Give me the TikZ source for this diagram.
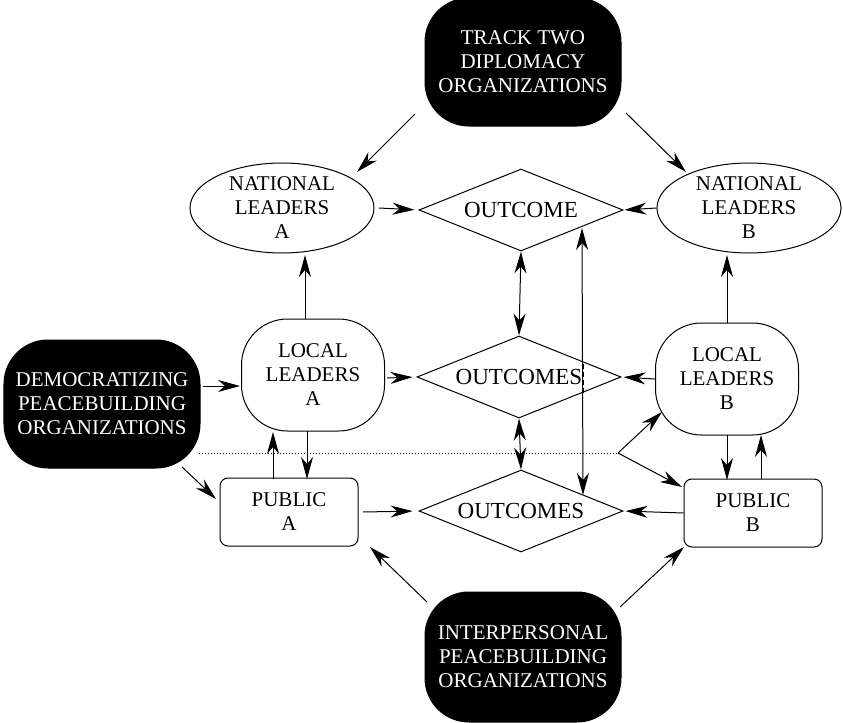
\documentclass[tikz,border=0pt]{standalone}
\usepackage{fontspec}
\setmainfont{Liberation Serif}
\usetikzlibrary{shapes.geometric,arrows.meta}

\begin{document}
\begin{tikzpicture}[x=0.5pt,y=-0.5pt,line width=0.5pt,
        >={Stealth[length=11pt,width=6pt,inset=3.5pt]}]
        \tikzset{LabelStyle/.style={font=\fontsize{10.5}{12}\selectfont, align=center, inner sep=0pt}}
        \tikzset{LowText/.style={execute at begin node={\rule{0pt}{12pt}}}}
        \tikzset{OrgStyle/.style={LabelStyle, draw, fill=black, text=white, rounded corners=22pt,
                minimum width=98pt, minimum height=64pt}}
        \tikzset{LeaderStyle/.style={LabelStyle, LowText, draw, ellipse, inner ysep=-3pt,
                minimum width=92pt, minimum height=45pt}}
        \tikzset{LocalStyle/.style={LabelStyle, LowText, draw, rounded corners=23pt, minimum width=71.5pt, minimum height=56pt}}
        \tikzset{PublicStyle/.style={LabelStyle, draw, rounded corners=4pt, minimum width=69pt, minimum height=34pt}}
        \tikzset{OutStyle/.style={draw, diamond, aspect=2.5, inner sep=0pt, font=\fontsize{11.5}{13}\selectfont,
                minimum width=102pt, minimum height=41pt}}
        \useasboundingbox (0,0) rectangle (843,723);
        \node[OrgStyle] (Track) at (523,62) {TRACK TWO\\DIPLOMACY\\ORGANIZATIONS};
        \node[OrgStyle] (Demo) at (102,404) {DEMOCRATIZING\\PEACEBUILDING\\ORGANIZATIONS};
        \node[OrgStyle, minimum height=65pt] (Inter) at (523,657) {INTERPERSONAL\\PEACEBUILDING\\ORGANIZATIONS};
        \node[LeaderStyle] (NatA) at (282,208) {NATIONAL\\LEADERS\\A};
        \node[LeaderStyle] (NatB) at (749,208) {NATIONAL\\LEADERS\\B};
        \node[LocalStyle] (LocA) at (313,375) {LOCAL\\LEADERS\\A};
        \node[LocalStyle] (LocB) at (727,379) {LOCAL\\LEADERS\\B};
        \node[PublicStyle] (PubA) at (289,512) {PUBLIC\\A};
        \node[PublicStyle] (PubB) at (753,513) {PUBLIC\\B};
        \node[OutStyle] (Out1) at (521,210) {OUTCOME};
        \node[OutStyle] (Out2) at (519,377) {OUTCOMES};
        \node[OutStyle] (Out3) at (521,511) {OUTCOMES};
        \coordinate (Fork) at (618,453);
        \draw[->] ([shift={(-108,52)}]Track.center) -- ([shift={(75,-36)}]NatA.center);
        \draw[->] ([shift={(103,51)}]Track.center) -- ([shift={(-63,-36)}]NatB.center);
        \draw[->, shorten >=2pt] ([shift={(97,0)}]NatA.center) -- (Out1.west);
        \draw[->, shorten >=0.5pt] (NatB.west) -- (Out1.east);
        \draw[->] ([shift={(-8,-56)}]LocA.center) -- ([shift={(23,47)}]NatA.center);
        \draw[->] ([shift={(0,-56)}]LocB.center) -- ([shift={(-22,47)}]NatB.center);
        \draw[<->] (Out1.south) -- (Out2.north);
        \draw[<->] ([shift={(61,18)}]Out1.center) -- ([shift={(62,-16)}]Out3.center);
        \draw[line width=1.3pt, dash pattern=on 2.5pt off 1.5pt] ([shift={(64,-13)}]Out2.center) -- ([shift={(64,16)}]Out2.center);
        \draw[->] ([shift={(101,-18)}]Demo.center) -- ([shift={(-73,11)}]LocA.center);
        \draw[->, shorten >=2pt] ([shift={(74,3)}]LocA.center) -- (Out2.west);
        \draw[->, shorten >=1pt] (LocB.west) -- (Out2.east);
        \draw[<->] (Out2.south) -- (Out3.north);
        \draw[densely dotted] ([shift={(97,49)}]Demo.center) -- (Fork);
        \draw[->] (Fork) -- ([shift={(-65,33)}]LocB.center);
        \draw[->] (Fork) -- ([shift={(-71,-26)}]PubB.center);
        \draw[->] ([shift={(80,63)}]Demo.center) -- ([shift={(-73,-13)}]PubA.center);
        \draw[->] ([shift={(-16,-33)}]PubA.center) -- ([shift={(-40,57)}]LocA.center);
        \draw[->] ([shift={(-6,56)}]LocA.center) -- ([shift={(18,-33)}]PubA.center);
        \draw[->, shorten >=3pt] ([shift={(74,0)}]PubA.center) -- (Out3.west);
        \draw[->, shorten >=1pt] (PubB.west) -- (Out3.east);
        \draw[->] ([shift={(0,56)}]LocB.center) -- ([shift={(-26,-33)}]PubB.center);
        \draw[->] ([shift={(8,-34)}]PubB.center) -- ([shift={(34,56)}]LocB.center);
        \draw[->] ([shift={(-96,-55)}]Inter.center) -- ([shift={(81,35)}]PubA.center);
        \draw[->] ([shift={(97,-50)}]Inter.center) -- ([shift={(-69,34)}]PubB.center);
    \end{tikzpicture}
\end{document}
